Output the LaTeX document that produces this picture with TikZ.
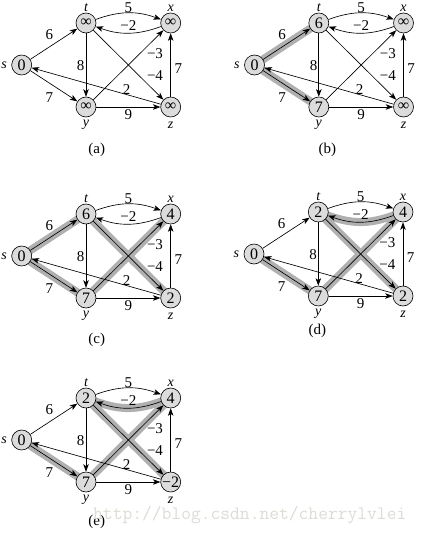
\documentclass[tikz,border=0pt]{standalone}
\usepackage{fontspec}
\setmainfont{Liberation Serif}
\usetikzlibrary{arrows.meta}
\pgfdeclarelayer{bg}
\pgfsetlayers{bg,main}
\definecolor{vfill}{HTML}{DCDCDC}
\definecolor{band}{HTML}{B0B0B0}
\definecolor{wm}{HTML}{DCDCD6}
\tikzset{
 vtx/.style={circle,draw,fill=vfill,minimum size=20pt,inner sep=0pt,line width=0.6pt,font=\fontsize{16}{16}\selectfont},
 vname/.style={font=\fontsize{14}{14}\selectfont\itshape,inner sep=0pt},
 wt/.style={font=\fontsize{15}{15}\selectfont,inner sep=0pt},
 edge/.style={line width=0.65pt,-{Stealth[length=7.5pt,width=5.5pt,inset=2pt]}},
 hl/.style={line width=8pt,band,line cap=round},
 captxt/.style={font=\fontsize{15}{15}\selectfont,inner sep=0pt}
}
\newcommand\bfpanel[9]{%
\begin{scope}[shift={(#1,#2)}]
 \node[vtx] (#3s) at (0,0) {#4};
 \node[vtx] (#3t) at (64.3,-42) {#5};
 \node[vtx] (#3x) at (149,-42) {#6};
 \node[vtx] (#3y) at (64.3,42) {#7};
 \node[vtx] (#3z) at (149,42) {#8};
 \node[vname] (#3ns) at (-17.7,0) {s};
 \node[vname] (#3nt) at (64.3,-57) {t};
 \node[vname] (#3nx) at (149,-57) {x};
 \node[vname] (#3ny) at (64.3,60) {y};
 \node[vname] (#3nz) at (149,60) {z};
 \begin{pgfonlayer}{bg}#9\end{pgfonlayer}
 \draw[edge] (#3s) -- (#3t);
 \draw[edge] (#3s) -- (#3y);
 \draw[edge] (#3t) to[bend left=20] (#3x);
 \draw[edge] (#3x) to[bend left=20] (#3t);
 \draw[edge] (#3t) -- (#3y);
 \draw[edge] (#3t) -- (#3z);
 \draw[edge] (#3y) -- (#3x);
 \draw[edge] (#3y) -- (#3z);
 \draw[edge] (#3z) -- (#3x);
 \draw[edge] (#3z) -- (#3s);
 \node[wt] (#3w1) at (27.6,-30.7) {6};
 \node[wt] (#3w2) at (27.6,32.3) {7};
 \node[wt] (#3w3) at (106.6,-57.5) {5};
 \node[wt] (#3w4) at (106.6,-39) {−2};
 \node[wt] (#3w5) at (59,1) {8};
 \node[wt] (#3w6) at (133.3,-11.7) {−3};
 \node[wt] (#3w7) at (133.3,11) {−4};
 \node[wt] (#3w8) at (156.6,3.3) {7};
 \node[wt] (#3w9) at (105,24.3) {2};
 \node[wt] (#3w10) at (106.6,50) {9};
\end{scope}}
\begin{document}
\begin{tikzpicture}[x=1pt,y=-1pt]
\useasboundingbox (0,0) rectangle (425,535);
\bfpanel{21.7}{65}{a}{0}{∞}{∞}{∞}{∞}{}
\bfpanel{254.5}{65}{b}{0}{6}{∞}{7}{∞}{%
 \draw[hl] (bs.center) -- (bt.center);
 \draw[hl] (bs.center) -- (by.center);}
\bfpanel{21.7}{256}{c}{0}{6}{4}{7}{2}{%
 \draw[hl] (cs.center) -- (ct.center);
 \draw[hl] (cs.center) -- (cy.center);
 \draw[hl] (cy.center) -- (cx.center);
 \draw[hl] (ct.center) -- (cz.center);}
\bfpanel{254}{254}{d}{0}{2}{4}{7}{2}{%
 \draw[hl] (ds.center) -- (dy.center);
 \draw[hl] (dx) to[bend left=20] (dt);
 \draw[hl] (dy.center) -- (dx.center);
 \draw[hl] (dt.center) -- (dz.center);}
\bfpanel{21.7}{440}{e}{0}{2}{4}{7}{−2}{%
 \draw[hl] (es.center) -- (ey.center);
 \draw[hl] (ex) to[bend left=20] (et);
 \draw[hl] (ey.center) -- (ex.center);
 \draw[hl] (et.center) -- (ez.center);}
\node[captxt] (capa) at (96.7,150) {(a)};
\node[captxt] (capb) at (327.3,150) {(b)};
\node[captxt] (capc) at (96.7,340) {(c)};
\node[captxt] (capd) at (317.3,331) {(d)};
\node[captxt] (cape) at (96.7,521.7) {(e)};
\node[anchor=west,inner sep=0pt,text=wm,font=\ttfamily\fontsize{19}{19}\selectfont] (wmark) at (93,515) {http://blog.csdn.net/cherrylvlei};
\end{tikzpicture}
\end{document}
